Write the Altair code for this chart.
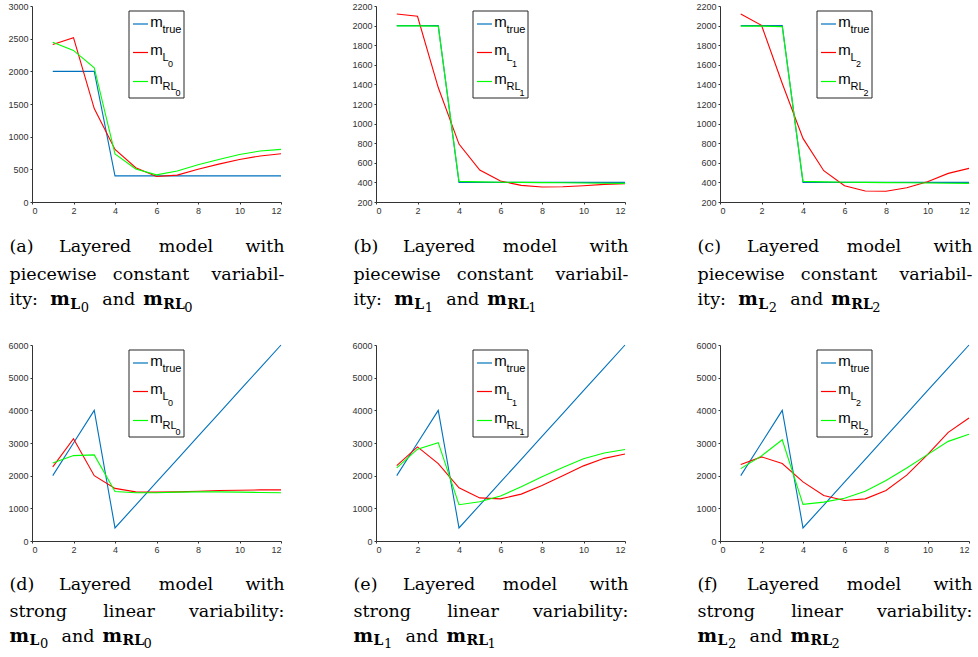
import altair as alt
import pandas as pd

# ---------------- data ----------------
X_VALS = list(range(1, 13))
X_TICKS = [0, 2, 4, 6, 8, 10, 12]

PC_TRUE = [2000, 2000, 2000, 400, 400, 400, 400, 400, 400, 400, 400, 400]
PC_L0 = [2410, 2515, 1430, 805, 525, 390, 412, 500, 580, 650, 705, 738]
PC_RL0 = [2445, 2320, 2055, 735, 505, 415, 475, 570, 650, 728, 780, 805]
PC_L1 = [2119, 2095, 1368, 791, 526, 414, 370, 353, 355, 366, 380, 387]
PC_RL1 = [1997, 1997, 1995, 410, 405, 402, 400, 398, 396, 394, 392, 390]
PC_L2 = [2119, 2003, 1409, 849, 519, 366, 312, 309, 346, 407, 492, 543]
PC_RL2 = [1995, 1995, 1990, 410, 405, 402, 400, 398, 396, 394, 392, 390]

LIN_TRUE = [2000, 3000, 4000, 400, 1100, 1800, 2500, 3200, 3900, 4600, 5300, 6000]
LIN_L0 = [2270, 3130, 2000, 1610, 1505, 1495, 1505, 1525, 1545, 1555, 1565, 1565]
LIN_RL0 = [2390, 2615, 2635, 1515, 1475, 1475, 1495, 1505, 1505, 1495, 1485, 1475]
LIN_L1 = [2310, 2880, 2370, 1630, 1320, 1290, 1435, 1700, 2000, 2300, 2530, 2665]
LIN_RL1 = [2240, 2810, 3010, 1110, 1200, 1375, 1660, 1965, 2250, 2520, 2695, 2800]
LIN_L2 = [2340, 2575, 2370, 1810, 1395, 1240, 1290, 1545, 2015, 2645, 3325, 3765]
LIN_RL2 = [2215, 2605, 3100, 1120, 1190, 1310, 1525, 1850, 2235, 2645, 3050, 3265]

Y_TICKS_A = [0, 500, 1000, 1500, 2000, 2500, 3000]
Y_TICKS_BC = [200, 400, 600, 800, 1000, 1200, 1400, 1600, 1800, 2000, 2200]
Y_TICKS_LIN = [0, 1000, 2000, 3000, 4000, 5000, 6000]

LETTERS = ["(a)", "(b)", "(c)", "(d)", "(e)", "(f)"]
SUBS = ["0", "1", "2"]

# ---------------- style ----------------
BLUE, RED, GREEN = "#0072BD", "#FF0000", "#00FF00"
W, H = 249, 196
SERIF = "DejaVu Serif"
SANS = "Liberation Sans"
AXC = "#333333"
FS = 17.5

one = pd.DataFrame({"k": [0]})


def txt(s, x, y, size, font, weight="normal", align="left"):
    return alt.Chart(one).mark_text(
        align=align, baseline="alphabetic", font=font, fontSize=size,
        fontWeight=weight, color="black"
    ).encode(x=alt.value(x), y=alt.value(y), text=alt.value(s))


def legend_layers(k):
    layers = [
        alt.Chart(one).mark_rect(fill="white", stroke="#262626", strokeWidth=1).encode(
            x=alt.value(97), x2=alt.value(152), y=alt.value(5), y2=alt.value(92))
    ]
    ys = [18, 46.5, 75.5]
    for yy, c in zip(ys, [BLUE, RED, GREEN]):
        layers.append(alt.Chart(one).mark_rule(color=c, strokeWidth=1.2).encode(
            x=alt.value(101), x2=alt.value(116), y=alt.value(yy)))
    for yy in ys:
        layers.append(txt("m", 118.3, yy + 2.5, 15, SANS))
    layers.append(txt("true", 130.5, ys[0] + 9, 11, SANS))
    layers.append(txt("L", 130.5, ys[1] + 8.5, 11, SANS))
    layers.append(txt(k, 136, ys[1] + 14, 9, SANS))
    layers.append(txt("RL", 130.5, ys[2] + 8, 11, SANS))
    layers.append(txt(k, 143.5, ys[2] + 14.5, 9, SANS))
    return layers


def caption_layers(letter, k, row):
    L = []
    if row == 0:
        b1, b2, b3 = 245.7, 274, 299
        mid2 = [("constant", 119)]
        words2 = ("piecewise", "variabil-")
        L.append(txt("ity:", -22.5, b3, FS, SERIF))
        x0 = 18.3
    else:
        b1, b2, b3 = 245, 271.7, 296.7
        mid2 = [("linear", 97)]
        words2 = ("strong", "variability:")
        x0 = -22.5
    L.append(txt(letter, -22.5, b1, FS, SERIF))
    L.append(txt("Layered", 63.2, b1, FS, SERIF, align="center"))
    L.append(txt("model", 154, b1, FS, SERIF, align="center"))
    L.append(txt("with", 252.5, b1, FS, SERIF, align="right"))
    L.append(txt(words2[0], -22.5, b2, FS, SERIF))
    for w, cx in mid2:
        L.append(txt(w, cx, b2, FS, SERIF, align="center"))
    L.append(txt(words2[1], 252.5, b2, FS, SERIF, align="right"))
    L.append(txt("m", x0, b3, FS + 1, SERIF, "bold"))
    L.append(txt("L", x0 + 20, b3 + 3.5, 14, SERIF, "bold"))
    L.append(txt(k, x0 + 30.5, b3 + 6.5, 13, SERIF))
    L.append(txt("and", x0 + 52, b3, FS, SERIF))
    L.append(txt("m", x0 + 93, b3, FS + 1, SERIF, "bold"))
    L.append(txt("RL", x0 + 113, b3 + 3.5, 14, SERIF, "bold"))
    L.append(txt(k, x0 + 134, b3 + 6.5, 13, SERIF))
    return L


def panel(true, est_l, est_rl, k, letter, ydom, yticks, row):
    df = pd.DataFrame({"x": X_VALS, "true": true, "L": est_l, "RL": est_rl})
    xenc = alt.X("x:Q", scale=alt.Scale(domain=[0, 12], nice=False, zero=False),
                 axis=alt.Axis(values=X_TICKS, title=None, format="d"))
    yaxis = alt.Axis(values=yticks, title=None, format="d")
    lines = []
    for f, c in [("true", BLUE), ("L", RED), ("RL", GREEN)]:
        lines.append(alt.Chart(df).mark_line(color=c, strokeWidth=1.1).encode(
            x=xenc,
            y=alt.Y(f"{f}:Q", scale=alt.Scale(domain=ydom, nice=False, zero=False), axis=yaxis),
        ))
    layers = lines + legend_layers(k) + caption_layers(letter, k, row)
    return alt.layer(*layers).properties(width=W, height=H)


pa = panel(PC_TRUE, PC_L0, PC_RL0, SUBS[0], LETTERS[0], [0, 3000], Y_TICKS_A, 0)
pb = panel(PC_TRUE, PC_L1, PC_RL1, SUBS[1], LETTERS[1], [200, 2200], Y_TICKS_BC, 0)
pc = panel(PC_TRUE, PC_L2, PC_RL2, SUBS[2], LETTERS[2], [200, 2200], Y_TICKS_BC, 0)
pd_ = panel(LIN_TRUE, LIN_L0, LIN_RL0, SUBS[0], LETTERS[3], [0, 6000], Y_TICKS_LIN, 1)
pe = panel(LIN_TRUE, LIN_L1, LIN_RL1, SUBS[1], LETTERS[4], [0, 6000], Y_TICKS_LIN, 1)
pf = panel(LIN_TRUE, LIN_L2, LIN_RL2, SUBS[2], LETTERS[5], [0, 6000], Y_TICKS_LIN, 1)

row1 = alt.hconcat(pa, pb, pc, spacing=66)
row2 = alt.hconcat(pd_, pe, pf, spacing=66)

chart = alt.vconcat(row1, row2, spacing=26).properties(
    padding={"left": 7, "top": 2, "right": 0, "bottom": 0},
    background="white",
).configure_view(stroke=None).configure_axis(
    grid=False, domainColor=AXC, domainWidth=1, tickColor=AXC, tickSize=2,
    labelColor=AXC, labelFont=SANS, labelFontSize=9, labelPadding=2,
)

chart.save("out.html", embed_options={"renderer": "svg", "actions": False})
